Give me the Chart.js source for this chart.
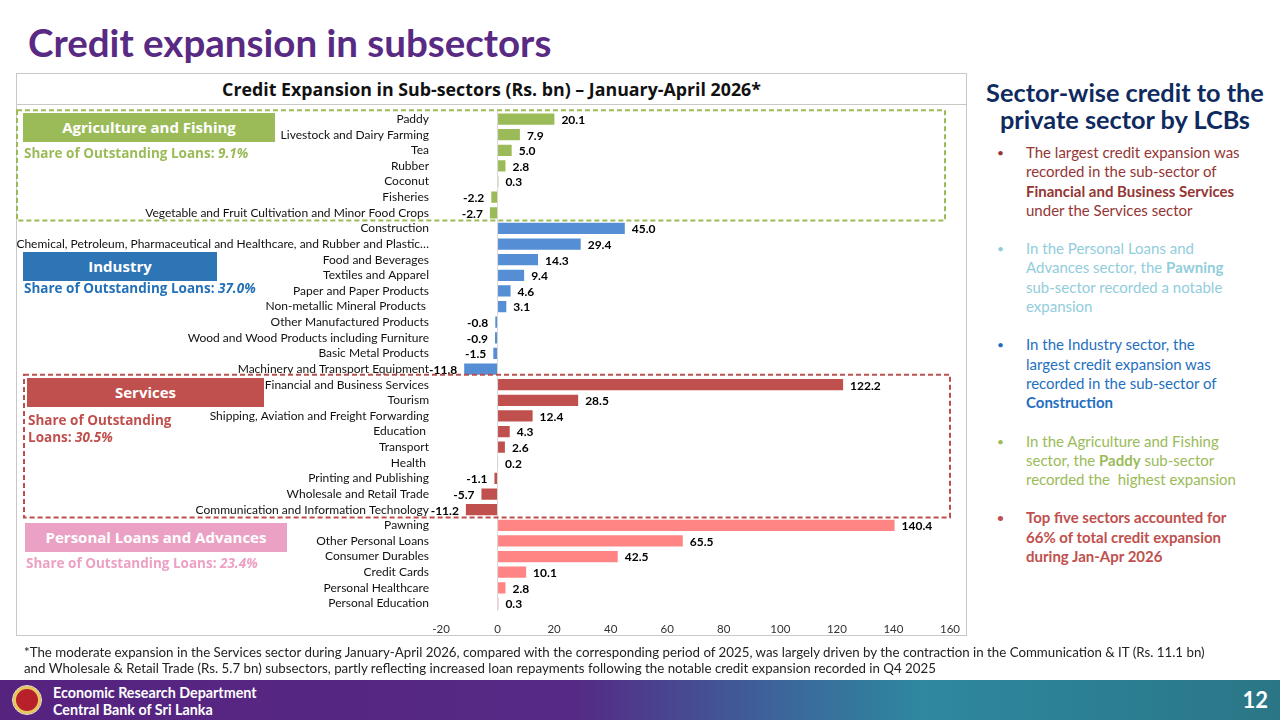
<!DOCTYPE html>
<html>
<head>
<meta charset="utf-8">
<script src="https://cdn.jsdelivr.net/npm/chart.js@4.4.1/dist/chart.umd.min.js"></script>
<style>
  html, body { margin: 0; padding: 0; }
  body { width: 1280px; height: 720px; position: relative; overflow: hidden; background: #fff; font-family: Lato, "Noto Sans", sans-serif; }
  .abs { position: absolute; }
  #mainTitle { left: 28px; top: 19px; font-size: 38.5px; line-height: 46px; font-weight: bold; color: #592a83; }
  #chartBox { left: 16px; top: 73px; width: 949px; height: 561px; border: 1px solid #c8c8c8; }
  #chartTitle { left: 16px; top: 73px; width: 951px; height: 31px; border-bottom: 1px solid #c8c8c8; text-align: center; line-height: 33px; font-size: 17.8px; font-weight: bold; color: #111; font-family: "Open Sans", Lato, sans-serif; }
  #chartWrap { left: 16px; top: 92px; width: 955px; height: 555px; }
  .tag { color: #fff; font-weight: bold; font-size: 15px; text-align: center; line-height: 29px; height: 29px; font-family: "Open Sans", Lato, sans-serif; }
  .share { font-weight: bold; font-size: 13.5px; line-height: 17px; font-family: "Open Sans", Lato, sans-serif; }
  .share i { font-style: italic; }
  #side { left: 979px; top: 79px; width: 292px; }
  #side h2 { margin: 0; text-align: center; font-size: 25.3px; line-height: 27px; color: #0f2a5e; font-weight: bold; }
  #side ul { margin: 10px 0 0 0; padding: 0; list-style: none; }
  #side li { position: relative; padding-left: 47px; font-size: 15px; line-height: 19.3px; margin-bottom: 19px; white-space: nowrap; }
  #side li:before { content: "\2022"; position: absolute; left: 18px; top: 0; font-size: 12px; }
  #note { left: 24px; top: 644px; font-size: 13.3px; line-height: 16px; color: #222; }
  #footer { left: 0; top: 680px; width: 1280px; height: 40px;
    background: linear-gradient(90deg, #56237f 0%, #552a86 45%, #3d629a 60%, #2e88a0 72%, #2a7686 100%); }
  #emblem { left: 13px; top: 686px; width: 22px; height: 22px; border-radius: 50%; background: #b8202a; border: 3px solid #e8c85a; outline: 1px solid #f4ead0; box-sizing: content-box; }
  #footText { left: 53px; top: 684px; color: #fff; font-weight: bold; font-size: 14.3px; line-height: 17px; }
  #pageNo { right: 12px; top: 685px; color: #fff; font-weight: bold; font-size: 22px; line-height: 30px; }
</style>
</head>
<body>
<div id="mainTitle" class="abs">Credit expansion in subsectors</div>
<div id="chartBox" class="abs"></div>
<div id="chartTitle" class="abs">Credit Expansion in Sub-sectors (Rs. bn) – January-April 2026*</div>
<div id="chartWrap" class="abs"><canvas id="chart"></canvas></div>

<div class="abs tag" style="left:23px;top:113px;width:252px;background:#9bbb59;">Agriculture and Fishing</div>
<div class="abs share" style="left:24px;top:145px;color:#9bbb59;">Share of Outstanding Loans: <i>9.1%</i></div>
<div class="abs tag" style="left:23px;top:252px;width:194px;background:#2e75b6;">Industry</div>
<div class="abs share" style="left:24px;top:280px;color:#2471b8;">Share of Outstanding Loans: <i>37.0%</i></div>
<div class="abs tag" style="left:27px;top:378px;width:237px;background:#c0504d;">Services</div>
<div class="abs share" style="left:28px;top:412px;color:#c0504d;">Share of Outstanding<br>Loans: <i>30.5%</i></div>
<div class="abs tag" style="left:25px;top:523px;width:262px;background:#eba1c3;">Personal Loans and Advances</div>
<div class="abs share" style="left:26px;top:555px;color:#eca0c4;">Share of Outstanding Loans: <i>23.4%</i></div>

<div id="side" class="abs">
  <h2>Sector-wise credit to the<br>private sector by LCBs</h2>
  <ul>
    <li style="color:#943634;">The largest credit expansion was<br>recorded in the sub-sector of<br><b>Financial and Business Services</b><br>under the Services sector</li>
    <li style="color:#92cddc;">In the Personal Loans and<br>Advances sector, the <b>Pawning</b><br>sub-sector recorded a notable<br>expansion</li>
    <li style="color:#1f6fbf;">In the Industry sector, the<br>largest credit expansion was<br>recorded in the sub-sector of<br><b>Construction</b></li>
    <li style="color:#9bbb59;">In the Agriculture and Fishing<br>sector, the <b>Paddy</b> sub-sector<br>recorded the&nbsp; highest expansion</li>
    <li style="color:#c0504d;font-weight:bold;">Top five sectors accounted for<br>66% of total credit expansion<br>during Jan-Apr 2026</li>
  </ul>
</div>

<div id="note" class="abs">*The moderate expansion in the Services sector during January-April 2026, compared with the corresponding period of 2025, was largely driven by the contraction in the Communication &amp; IT (Rs. 11.1 bn)<br>and Wholesale &amp; Retail Trade (Rs. 5.7 bn) subsectors, partly reflecting increased loan repayments following the notable credit expansion recorded in Q4 2025</div>
<div id="footer" class="abs"></div>
<div id="emblem" class="abs"></div>
<div id="footText" class="abs">Economic Research Department<br>Central Bank of Sri Lanka</div>
<div id="pageNo" class="abs">12</div>

<script>
// sub-sector names and values (Rs. bn), by sector
var agriLabels = ["Paddy", "Livestock and Dairy Farming", "Tea", "Rubber", "Coconut", "Fisheries",
  "Vegetable and Fruit Cultivation and Minor Food Crops"];
var agriValues = [20.1, 7.9, 5.0, 2.8, 0.3, -2.2, -2.7];

var industryLabels = ["Construction", "Chemical, Petroleum, Pharmaceutical and Healthcare, and Rubber and Plastic\u2026",
  "Food and Beverages", "Textiles and Apparel", "Paper and Paper Products", "Non-metallic Mineral Products ",
  "Other Manufactured Products", "Wood and Wood Products including Furniture", "Basic Metal Products",
  "Machinery and Transport Equipment"];
var industryValues = [45.0, 29.4, 14.3, 9.4, 4.6, 3.1, -0.8, -0.9, -1.5, -11.8];

var servicesLabels = ["Financial and Business Services", "Tourism", "Shipping, Aviation and Freight Forwarding",
  "Education ", "Transport", "Health ", "Printing and Publishing", "Wholesale and Retail Trade",
  "Communication and Information Technology"];
var servicesValues = [122.2, 28.5, 12.4, 4.3, 2.6, 0.2, -1.1, -5.7, -11.2];

var personalLabels = ["Pawning", "Other Personal Loans", "Consumer Durables", "Credit Cards",
  "Personal Healthcare", "Personal Education"];
var personalValues = [140.4, 65.5, 42.5, 10.1, 2.8, 0.3];

var xTicks = [-20, 0, 20, 40, 60, 80, 100, 120, 140, 160];

var sectorColors = { agri: "#9bbb59", industry: "#558ed5", services: "#c0504d", personal: "#ff8585" };

var labels = [].concat(agriLabels, industryLabels, servicesLabels, personalLabels);
var values = [].concat(agriValues, industryValues, servicesValues, personalValues);
var colors = [].concat(
  agriValues.map(function(){ return sectorColors.agri; }),
  industryValues.map(function(){ return sectorColors.industry; }),
  servicesValues.map(function(){ return sectorColors.services; }),
  personalValues.map(function(){ return sectorColors.personal; })
);

// value labels at the end of each bar
var valueLabels = {
  id: "valueLabels",
  afterDatasetsDraw: function(chart) {
    var ctx = chart.ctx;
    var meta = chart.getDatasetMeta(0);
    ctx.save();
    ctx.font = "bold 12px Lato, 'Noto Sans', sans-serif";
    ctx.fillStyle = "#000";
    ctx.textBaseline = "middle";
    meta.data.forEach(function(bar, i) {
      var v = values[i];
      if (v >= 0) {
        ctx.textAlign = "left";
        ctx.fillText(v.toFixed(1), bar.x + 7, bar.y + 1);
      } else {
        ctx.textAlign = "right";
        ctx.fillText(v.toFixed(1), bar.x - 7, bar.y + 1);
      }
    });
    ctx.restore();
  }
};

// dashed frames around agriculture and services groups
var sectorFrames = {
  id: "sectorFrames",
  afterDraw: function(chart) {
    var ctx = chart.ctx;
    var y = chart.scales.y;
    var step = y.getPixelForValue(1) - y.getPixelForValue(0);
    var a0 = 0, a1 = agriLabels.length - 1;
    var s0 = agriLabels.length + industryLabels.length;
    var s1 = s0 + servicesLabels.length - 1;
    ctx.save();
    ctx.lineWidth = 2;
    ctx.setLineDash([5, 3]);
    ctx.strokeStyle = "#9bbb59";
    ctx.strokeRect(1, y.getPixelForValue(a0) - step / 2 - 1, chart.chartArea.right - 6,
      (a1 - a0 + 1) * step + 1);
    ctx.strokeStyle = "#b9504f";
    ctx.strokeRect(8, y.getPixelForValue(s0) - step / 2 - 2, chart.chartArea.right - 8,
      (s1 - s0 + 1) * step + 2);
    ctx.restore();
  }
};

new Chart(document.getElementById("chart"), {
  type: "bar",
  data: {
    labels: labels,
    datasets: [{
      data: values,
      backgroundColor: colors,
      barPercentage: 0.72,
      categoryPercentage: 1
    }]
  },
  options: {
    indexAxis: "y",
    responsive: true,
    maintainAspectRatio: false,
    animation: false,
    layout: { padding: { top: 6, right: 0, bottom: 0, left: 0 } },
    plugins: { legend: { display: false }, tooltip: { enabled: false } },
    scales: {
      x: {
        min: -20,
        max: 160,
        afterBuildTicks: function(scale) {
          scale.ticks = xTicks.map(function(v){ return { value: v }; });
        },
        grid: {
          drawTicks: false,
          color: function(c) { return c.tick && c.tick.value === 0 ? "#d9d9d9" : "rgba(0,0,0,0)"; }
        },
        border: { display: false },
        ticks: { padding: 11, color: "#333", font: { size: 11.5, family: "Lato, 'Noto Sans', sans-serif" } }
      },
      y: {
        afterFit: function(scale) { scale.width = 425; },
        grid: { display: false, drawTicks: false },
        border: { display: false },
        ticks: { autoSkip: false, padding: 12, color: "#111", font: { size: 12, family: "Lato, 'Noto Sans', sans-serif" } }
      }
    }
  },
  plugins: [valueLabels, sectorFrames]
});
</script>
</body>
</html>
